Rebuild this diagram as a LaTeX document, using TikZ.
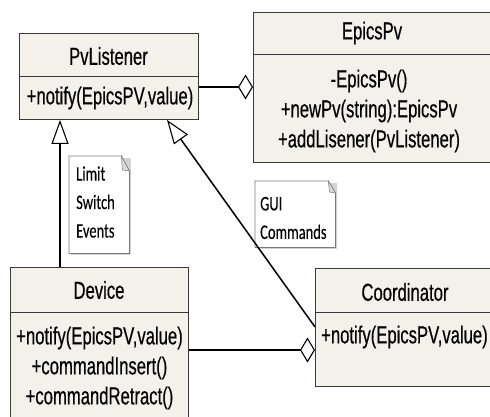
\documentclass[tikz,border=0pt]{standalone}
\usepackage{fontspec}
\newfontfamily\umlfont[FakeStretch=0.68,FakeBold=0.4]{Liberation Sans}
\newfontfamily\notefont[FakeStretch=0.70,FakeBold=0.2]{Carlito}
\usetikzlibrary{arrows.meta,calc}
\definecolor{boxfill}{HTML}{F4F1EA}
\definecolor{boxline}{HTML}{3A3A3A}
\definecolor{noteline}{HTML}{7A7A7A}
\begin{document}
\begin{tikzpicture}[x=1pt,y=-1pt,
  box/.style={draw=boxline, fill=boxfill, line width=0.9pt, inner sep=0pt, anchor=north west},
  lbl/.style={font=\umlfont\fontsize{24.5}{30}\selectfont, inner sep=0pt, align=center},
  notetxt/.style={font=\notefont\fontsize{20.7}{28.5}\selectfont, inner sep=0pt, align=left, anchor=west},
  notebox/.style={inner sep=0pt, anchor=north west},
  noteedge/.style={draw=noteline, fill=white, line width=0.7pt},
  gen/.style={line width=1.5pt, -{Triangle[length=24pt, width=17pt, fill=white, line width=1.1pt]}},
  agg/.style={line width=1.6pt, -{Diamond[length=15pt, width=25pt, fill=white, line width=1.1pt]}}]
\useasboundingbox (0,0) rectangle (490,416);

% PvListener
\node[box, minimum width=179, minimum height=43] (pvt) at (19,33) {};
\node[box, minimum width=179, minimum height=43] (pvm) at (19,76) {};
\node[lbl] (pvtl) at (108.5,56) {PvListener};
\node[lbl] (pvml) at (110,98) {+notify(EpicsPV,value)};

% EpicsPv
\node[box, minimum width=260, minimum height=42] (ept) at (253,12) {};
\node[box, minimum width=260, minimum height=108] (epm) at (253,54) {};
\node[lbl] (eptl) at (372,33) {EpicsPv};
\node[lbl] (epml) at (369,111) {-EpicsPv()\\+newPv(string):EpicsPv\\+addLisener(PvListener)};

% Device
\node[box, minimum width=178, minimum height=45] (dvt) at (10,267) {};
\node[box, minimum width=178, minimum height=120] (dvm) at (10,312) {};
\node[lbl] (dvtl) at (99,290) {Device};
\node[lbl] (dvml) at (99.5,368) {+notify(EpicsPV,value)\\+commandInsert()\\+commandRetract()};

% Coordinator
\node[box, minimum width=180, minimum height=44] (cot) at (315,268) {};
\node[box, minimum width=180, minimum height=74] (com) at (315,312) {};
\node[lbl] (cotl) at (405,292) {Coordinator};
\node[lbl, anchor=west] (coml) at (321,337) {+notify(EpicsPV,value)};

% Notes
\node[notebox, minimum width=60, minimum height=97] (n1) at (69,156) {};
\fill[gray!35] ($(n1.north west)+(2,2)$) rectangle ($(n1.south east)+(2,2)$);
\draw[noteedge] (n1.north west) -- ($(n1.north east)+(-8,0)$) -- ($(n1.north east)+(0,15)$) -- (n1.south east) -- (n1.south west) -- cycle;
\draw[noteline, fill=gray!30, line width=0.5pt] ($(n1.north east)+(-8,0)$) -- ($(n1.north east)+(-7,14)$) -- ($(n1.north east)+(0,15)$) -- cycle;
\node[notetxt] (n1t) at (76,202) {Limit\\Switch\\Events};

\node[notebox, minimum width=80, minimum height=66] (n2) at (255,181) {};
\fill[gray!35] ($(n2.north west)+(2,2)$) rectangle ($(n2.south east)+(2,2)$);
\draw[noteedge] (n2.north west) -- ($(n2.north east)+(-7,0)$) -- ($(n2.north east)+(0,12)$) -- (n2.south east) -- (n2.south west) -- cycle;
\draw[noteline, fill=gray!30, line width=0.5pt] ($(n2.north east)+(-7,0)$) -- ($(n2.north east)+(-6,11)$) -- ($(n2.north east)+(0,12)$) -- cycle;
\node[notetxt] (n2t) at (260,218) {GUI\\Commands};

% Connectors
\draw[agg] ($(pvm.north east)+(0,11)$) -- ($(epm.north west)+(0,33)$);
\coordinate (g1) at ($(pvm.south west)+(41,0)$);
\draw[gen] (dvt.north -| g1) -- (g1);
\draw[gen] ($(com.north west)+(0,15)$) -- ($(pvm.south west)+(148,0)$);
\draw[agg] ($(dvm.north east)+(0,38)$) -- ($(com.north west)+(0,38)$);
\end{tikzpicture}
\end{document}
